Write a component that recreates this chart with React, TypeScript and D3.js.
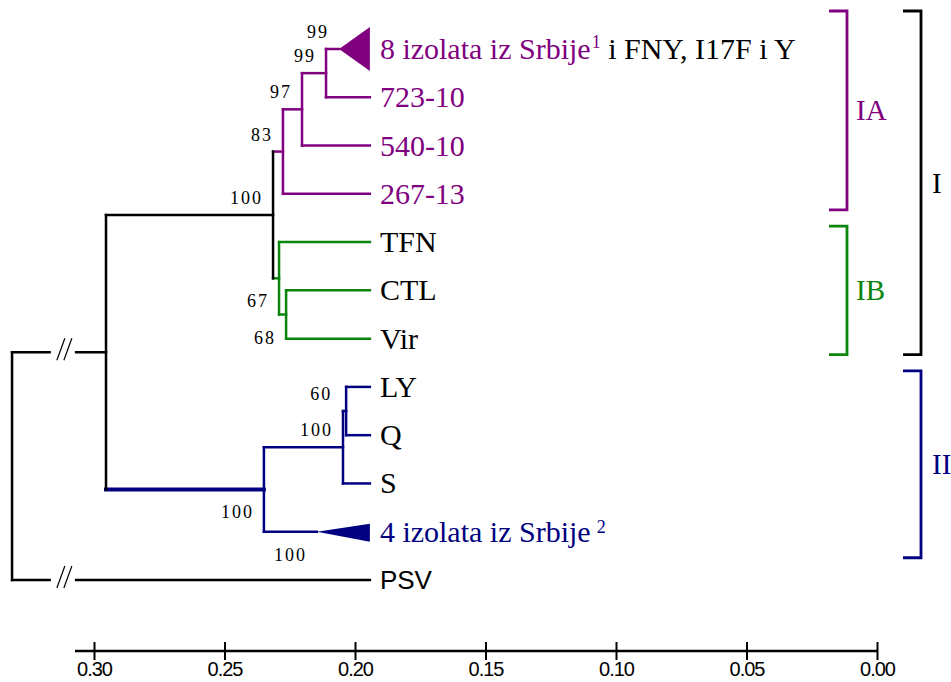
import React, { useEffect, useRef } from "react";
import * as d3 from "d3";

const W = 951;
const H = 682;

// tree topology (children listed in drawing order), distances in axis units
const nodeIds = [
  "root", "A", "I", "IA", "n97", "n99", "8 izolata iz Srbije", "723-10", "540-10", "267-13",
  "IB", "TFN", "n68", "CTL", "Vir", "II", "n100", "n60", "LY", "Q", "S", "4 izolata iz Srbije", "PSV",
];
const parentIds = [
  "", "root", "A", "I", "IA", "n97", "n99", "n99", "n97", "IA",
  "I", "IB", "IB", "n68", "n68", "A", "II", "n100", "n60", "n60", "n100", "II", "root",
];
const distances = [
  0.3314, 0.2954, 0.2314, 0.2276, 0.2203, 0.2111, 0.2061, 0.1943, 0.1943, 0.1943,
  0.2291, 0.1943, 0.2264, 0.1943, 0.1943, 0.2349, 0.2046, 0.2034, 0.1943, 0.1943, 0.1943, 0.2146, 0.1943,
];
const bootstrap = [
  "", "", "100", "83", "97", "99", "99", "", "", "",
  "67", "", "68", "", "", "100", "100", "60", "", "", "", "100", "",
];

// collapsed clades (triangle from node to tip)
const collapsedClades = ["8 izolata iz Srbije", "4 izolata iz Srbije"];
const tipDistance = 0.1943;

// leaf label extras
const notedLeaves = ["8 izolata iz Srbije", "4 izolata iz Srbije"];
const noteSup = ["1", "2"];
const noteTail = [" i FNY, I17F i Y", ""];

// clade brackets
const bracketNames = ["IA", "IB", "I", "II"];
const bracketFirst = ["8 izolata iz Srbije", "TFN", "8 izolata iz Srbije", "LY"];
const bracketLast = ["267-13", "Vir", "Vir", "4 izolata iz Srbije"];
const bracketOuter = [false, false, true, true];

// scale bar
const axisTicks = [0.3, 0.25, 0.2, 0.15, 0.1, 0.05, 0.0];

const PURPLE = "#800080";
const GREEN = "#0b850b";
const BLUE = "#000080";
const cladeColor: Record<string, string> = { IA: PURPLE, IB: GREEN, II: BLUE, I: "#000", PSV: "#000" };
const coloredLabels = new Set(["IA"]);
const serif = "'Liberation Serif', 'Times New Roman', serif";

export default function App() {
  const axisRef = useRef<SVGGElement>(null);

  const x = d3.scaleLinear().domain([0.3, 0]).range([94, 877]);
  const y = d3.scaleLinear().domain([0, 11]).range([49, 580]);

  const table = nodeIds.map((id, i) => ({ id, parent: parentIds[i], dist: distances[i], boot: bootstrap[i] }));
  const root = d3.stratify<any>().id(d => d.id).parentId(d => d.parent || null)(table);

  // leaf y positions in order, internal = mid of first/last child
  const ypos = new Map<string, number>();
  root.leaves().forEach((l, i) => ypos.set(l.id!, y(i)));
  root.eachAfter(n => {
    if (n.children) {
      const c = n.children;
      ypos.set(n.id!, (ypos.get(c[0].id!)! + ypos.get(c[c.length - 1].id!)!) / 2);
    }
  });

  const colorOf = (n: d3.HierarchyNode<any>) => {
    let p: d3.HierarchyNode<any> | null = n;
    while (p) {
      if (cladeColor[p.id!]) return cladeColor[p.id!];
      p = p.parent;
    }
    return "#000";
  };
  const labelColorOf = (n: d3.HierarchyNode<any>) => {
    if (collapsedClades.includes(n.id!)) return colorOf(n);
    return n.ancestors().some(a => coloredLabels.has(a.id!)) ? colorOf(n) : "#000";
  };
  const triHalf: Record<string, [number, number]> = {
    "8 izolata iz Srbije": [22, 22],
    "4 izolata iz Srbije": [8, 10],
  };

  const nodes = root.descendants();
  const leaves = root.leaves();
  const thick = new Set(["II"]);
  const brokenBranches = new Set(["A", "PSV"]);
  const bootBelow = new Set(["IB", "n68", "II", "4 izolata iz Srbije"]);
  const bootDx: Record<string, number> = { n60: -4 };

  useEffect(() => {
    const g = d3.select(axisRef.current!);
    g.selectAll("*").remove();
    g.append("line")
      .attr("x1", x(0.3) - 19)
      .attr("x2", x(0))
      .attr("stroke", "#000")
      .attr("stroke-width", 2.5);
    const axis = d3
      .axisBottom(x)
      .tickValues(axisTicks)
      .tickFormat(d3.format(".2f"))
      .tickSize(9);
    const a = g.append("g").call(axis);
    a.select(".domain").remove();
    a.selectAll(".tick line").attr("y1", -9).attr("y2", 9).attr("stroke-width", 2);
    a.selectAll(".tick text")
      .attr("y", 25)
      .attr("dy", 0)
      .style("font-family", "'Liberation Sans Narrow', 'Liberation Sans', Arial, sans-serif")
      .style("font-size", "20px")
      .style("letter-spacing", "-1px")
      .attr("fill", "#000");
  }, []);

  const yTop = (id: string) => ypos.get(id)! - (triHalf[id] ? triHalf[id][0] : 0);
  const yBot = (id: string) => ypos.get(id)! + (triHalf[id] ? triHalf[id][1] : 0);

  return (
    <svg width={W} height={H} style={{ position: "absolute", left: 0, top: 0, background: "#fff" }}>
      {/* horizontal branches */}
      {nodes.filter(n => n.parent).map(n => {
        const yy = ypos.get(n.id!)!;
        const x0 = x(n.parent!.data.dist);
        const x1 = x(n.data.dist);
        const col = colorOf(n);
        const broken = brokenBranches.has(n.id!);
        const bx = x0 + (x(0.3) - x0) * 0.62;
        return (
          <g key={"h" + n.id}>
            <line x1={x0} x2={x1} y1={yy} y2={yy} stroke={col} strokeWidth={thick.has(n.id!) ? 4 : 2.5} strokeLinecap="square" />
            {broken && (
              <g>
                <rect x={bx - 12} y={yy - 3} width={24} height={6} fill="#fff" />
                <line x1={bx - 6} y1={yy + 8} x2={bx + 2} y2={yy - 14} stroke="#000" strokeWidth={1.2} />
                <line x1={bx + 1} y1={yy + 8} x2={bx + 9} y2={yy - 14} stroke="#000" strokeWidth={1.2} />
              </g>
            )}
          </g>
        );
      })}
      {/* vertical connectors */}
      {nodes.filter(n => n.children).map(n => {
        const c = n.children!;
        return (
          <line key={"v" + n.id} x1={x(n.data.dist)} x2={x(n.data.dist)}
            y1={ypos.get(c[0].id!)} y2={ypos.get(c[c.length - 1].id!)}
            stroke={colorOf(n)} strokeWidth={2.5} strokeLinecap="square" />
        );
      })}
      {/* collapsed clades */}
      {leaves.filter(l => collapsedClades.includes(l.id!)).map(l => {
        const yy = ypos.get(l.id!)!;
        const [up, dn] = triHalf[l.id!];
        const pts = [[x(l.data.dist), yy], [x(tipDistance), yy - up], [x(tipDistance), yy + dn]];
        return <polygon key={"t" + l.id} points={pts.map(p => p.join(",")).join(" ")} fill={colorOf(l)} />;
      })}
      {/* bootstrap values */}
      {nodes.filter(n => n.data.boot).map(n => (
        <text key={"b" + n.id}
          x={x(n.data.dist) - 10 + (bootDx[n.id!] || 0)}
          y={ypos.get(n.id!)! + (bootBelow.has(n.id!) ? 29 : -11)}
          textAnchor="end" fontFamily={serif} fontSize={18} letterSpacing={2} fill="#000">
          {n.data.boot}
        </text>
      ))}
      {/* leaf labels */}
      {leaves.map(l => {
        const yy = ypos.get(l.id!)!;
        const k = notedLeaves.indexOf(l.id!);
        const sans = l.id === "PSV";
        return (
          <text key={"l" + l.id} x={x(tipDistance) + 10} y={yy + (sans ? 9 : 10)}
            fontFamily={sans ? "'Liberation Sans', Arial, sans-serif" : serif}
            fontSize={sans ? 26 : 30} fill={labelColorOf(l)}>
            {l.id}
            {k >= 0 && (
              <tspan dx={k === 1 ? 6 : 1} dy={k === 1 ? -9 : -11} fontSize={18}>{noteSup[k]}</tspan>
            )}
            {k >= 0 && noteTail[k] && (
              <tspan dy={11} fill="#000">{noteTail[k]}</tspan>
            )}
          </text>
        );
      })}
      {/* clade brackets */}
      {bracketNames.map((name, i) => {
        const top = yTop(bracketFirst[i]) - 16;
        const bot = yBot(bracketLast[i]) + 16;
        const vx = bracketOuter[i] ? 921 : 847;
        const col = cladeColor[name] || "#000";
        return (
          <g key={"br" + name}>
            <path d={`M${vx - 18},${top}H${vx}V${bot}H${vx - 18}`} fill="none" stroke={col} strokeWidth={2.8} />
            <text x={vx + (bracketOuter[i] ? 11 : 9)} y={(top + bot) / 2 + 10} fontFamily={serif} fontSize={29} fill={col}>
              {name}
            </text>
          </g>
        );
      })}
      <g ref={axisRef} transform="translate(0,651)" />
    </svg>
  );
}
